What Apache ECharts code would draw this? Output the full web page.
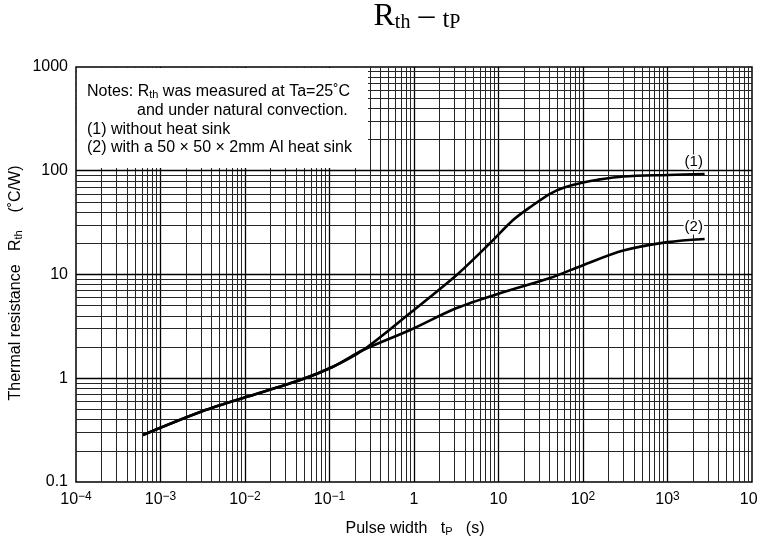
<!DOCTYPE html>
<html>
<head>
<meta charset="utf-8">
<script src="https://cdn.jsdelivr.net/npm/echarts@6/dist/echarts.min.js"></script>
<style>
html,body{margin:0;padding:0;background:#fff;}
#chart{width:757px;height:554px;}
</style>
</head>
<body>
<div id="chart"></div>
<script>
// ---- data ----
const xTickExps = [-4, -3, -2, -1, 0, 1, 2, 3, 4];
const yTickLabels = ['0.1', '1', '10', '100', '1000'];
const commonT = [6.2e-4, 2.9e-3, 9.5e-3, 0.045, 0.11, 0.25];
const commonR = [0.284, 0.47, 0.645, 0.96, 1.29, 1.87];
const noSinkT = [0.9, 3.2, 7.9, 14.9, 25, 40.7, 60, 100, 150, 300, 1000, 2750];
const noSinkR = [4.26, 9.9, 20, 33.5, 46, 60, 69, 77, 82, 88, 91, 93];
const sinkT = [0.9, 3.2, 10.4, 40.7, 100, 300, 1000, 2750];
const sinkR = [2.92, 4.75, 6.6, 9.25, 12.3, 17, 20.5, 22];
const gridMultipliers = [1, 2, 3, 4, 5, 6, 7, 8, 9];
const xDecades = [-4, -3, -2, -1, 0, 1, 2, 3];
const yDecades = [-1, 0, 1, 2];
const xRange = [1e-4, 1e4];
const yRange = [0.1, 1000];
const seriesNames = ['(1)', '(2)'];

const FONT = '"Liberation Sans", Arial, Helvetica, sans-serif';

function pairs(ts, rs) { return ts.map((t, i) => [t, rs[i]]); }
const curve1 = pairs(commonT, commonR).concat(pairs(noSinkT, noSinkR));
const curve2 = pairs(commonT, commonR).concat(pairs(sinkT, sinkR));

const gridLines = [];
xDecades.forEach(d => gridMultipliers.forEach(m => {
  if (m === 1 && d === -4) return;
  const v = m * Math.pow(10, d);
  gridLines.push({ coords: [[v, yRange[0]], [v, yRange[1]]], lineStyle: { color: m === 1 ? '#000' : '#262626', width: m === 1 ? 1.3 : 1 } });
}));
yDecades.forEach(d => gridMultipliers.forEach(m => {
  if (m === 1 && d === -1) return;
  const v = m * Math.pow(10, d);
  gridLines.push({ coords: [[xRange[0], v], [xRange[1], v]], lineStyle: { color: m === 1 ? '#000' : '#262626', width: m === 1 ? 1.3 : 1 } });
}));

const chart = echarts.init(document.getElementById('chart'));
chart.setOption({
  animation: false,
  backgroundColor: '#fff',
  grid: { left: 76, right: 5, top: 67, bottom: 72, show: true, borderColor: '#000', borderWidth: 1.5, containLabel: false, outerBoundsMode: 'none' },
  xAxis: {
    type: 'log', logBase: 10, min: xRange[0], max: xRange[1], interval: 1,
    axisLine: { show: false }, axisTick: { show: false }, splitLine: { show: false },
    axisLabel: {
      margin: 9, color: '#000', fontFamily: FONT, fontSize: 16, lineHeight: 18,
      showMinLabel: true, showMaxLabel: true, hideOverlap: false,
      formatter: v => {
        const e = Math.round(Math.log10(v));
        const ex = xTickExps[xTickExps.indexOf(e)];
        if (ex === 0) return '1';
        if (ex === 1) return '10';
        return '10{sup|' + String(ex).replace('-', '−') + '}';
      },
      rich: { sup: { fontSize: 12, verticalAlign: 'top', lineHeight: 11, fontFamily: FONT, color: '#000' } }
    }
  },
  yAxis: {
    type: 'log', logBase: 10, min: yRange[0], max: yRange[1], interval: 1,
    axisLine: { show: false }, axisTick: { show: false }, splitLine: { show: false },
    axisLabel: {
      margin: 8, color: '#000', fontFamily: FONT, fontSize: 16,
      showMinLabel: true, showMaxLabel: true,
      formatter: v => yTickLabels[Math.round(Math.log10(v)) + 1]
    }
  },
  series: [
    {
      type: 'lines', coordinateSystem: 'cartesian2d', silent: true, z: 1, polyline: false,
      lineStyle: { color: '#262626', width: 1, opacity: 1 },
      effect: { show: false },
      data: gridLines
    },
    {
      name: seriesNames[0], type: 'line', data: curve1, smooth: 0.3, showSymbol: false, z: 5,
      lineStyle: { color: '#000', width: 2.6 },
      endLabel: { show: true, formatter: seriesNames[0], color: '#000', fontFamily: FONT, fontSize: 15, offset: [-29, -12], backgroundColor: '#fff', padding: [0, 1] }
    },
    {
      name: seriesNames[1], type: 'line', data: curve2, smooth: 0.3, showSymbol: false, z: 5,
      lineStyle: { color: '#000', width: 2.6 },
      endLabel: { show: true, formatter: seriesNames[1], color: '#000', fontFamily: FONT, fontSize: 15, offset: [-29, -12], backgroundColor: '#fff', padding: [0, 1] }
    }
  ],
  graphic: [
    { type: 'rect', z: 50, shape: { x: 77, y: 68, width: 291, height: 100 }, style: { fill: '#fff' } },
    { type: 'text', z: 51, x: 87, y: 92, style: { text: 'Notes: R{s|th} was measured at Ta=25˚C', font: '16px ' + FONT, fill: '#000', textVerticalAlign: 'middle', rich: { s: { fontSize: 11, verticalAlign: 'bottom', lineHeight: 7, fontFamily: FONT } } } },
    { type: 'text', z: 51, x: 137, y: 111, style: { text: 'and under natural convection.', font: '16px ' + FONT, fill: '#000', textVerticalAlign: 'middle' } },
    { type: 'text', z: 51, x: 87, y: 130, style: { text: '(1) without heat sink', font: '16px ' + FONT, fill: '#000', textVerticalAlign: 'middle' } },
    { type: 'text', z: 51, x: 87, y: 148, style: { text: '(2) with a 50 × 50 × 2mm Al heat sink', font: '16px ' + FONT, fill: '#000', textVerticalAlign: 'middle' } },
    { type: 'text', z: 51, x: 417, y: 17, style: { text: 'R{s|th} – {t|t}{s|P}', font: '32px "Liberation Serif", "Times New Roman", serif', fill: '#000', textAlign: 'center', textVerticalAlign: 'middle', rich: { s: { fontSize: 20, verticalAlign: 'bottom', lineHeight: 8, fontFamily: '"Liberation Serif", serif' }, t: { fontSize: 25, verticalAlign: 'bottom', lineHeight: 14, fontFamily: '"Liberation Serif", serif' } } } },
    { type: 'text', z: 51, x: 415, y: 529, style: { text: 'Pulse width   t{s|P}   (s)', font: '16px ' + FONT, fill: '#000', textAlign: 'center', textVerticalAlign: 'middle', rich: { s: { fontSize: 11, verticalAlign: 'bottom', lineHeight: 7, fontFamily: FONT } } } },
    { type: 'text', z: 51, x: 16, y: 283, rotation: Math.PI / 2, style: { text: 'Thermal resistance   R{s|th}    (˚C/W)', font: '16px ' + FONT, fill: '#000', textAlign: 'center', textVerticalAlign: 'middle', rich: { s: { fontSize: 11, verticalAlign: 'bottom', lineHeight: 7, fontFamily: FONT } } } }
  ]
});
</script>
</body>
</html>
